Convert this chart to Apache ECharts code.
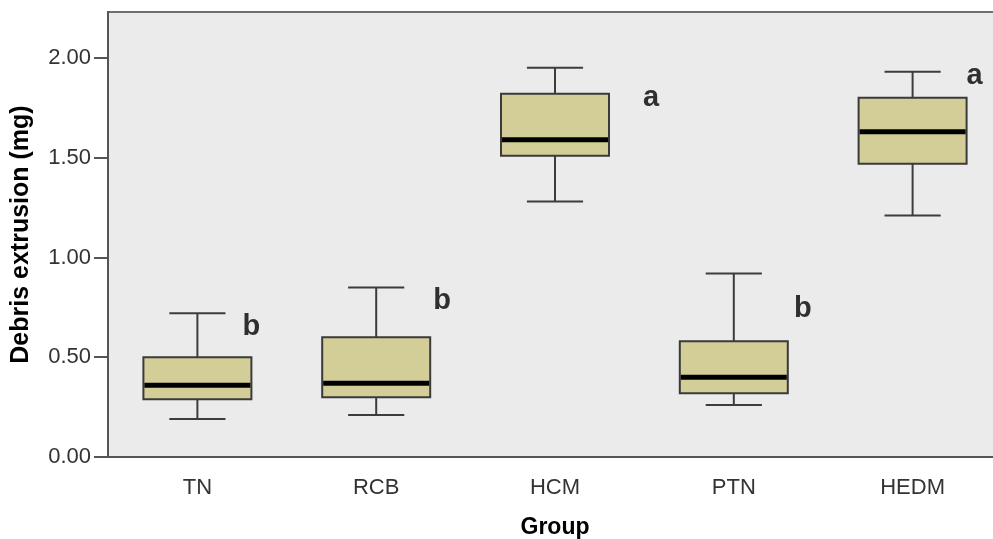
<!DOCTYPE html>
<html lang="en">

<head>
    <meta charset="UTF-8">
    <title>Debris extrusion</title>
    <style>
        html, body { margin: 0; padding: 0; background: #fff; }
    </style>
</head>

<body>
    <div id="main" style="width: 993px;height:539px;"></div>
    <script src="https://cdn.jsdelivr.net/npm/echarts@6/dist/echarts.min.js"></script>
    <script>
        // values
        var groups = ['TN', 'RCB', 'HCM', 'PTN', 'HEDM'];
        var whiskerLow = [0.19, 0.21, 1.28, 0.26, 1.21];
        var q1 = [0.29, 0.30, 1.51, 0.32, 1.47];
        var median = [0.36, 0.37, 1.59, 0.40, 1.63];
        var q3 = [0.50, 0.60, 1.82, 0.58, 1.80];
        var whiskerHigh = [0.72, 0.85, 1.95, 0.92, 1.93];
        var letters = ['b', 'b', 'a', 'b', 'a'];
        var letterY = [0.65, 0.78, 1.80, 0.74, 1.91];
        var yTicks = [0, 0.5, 1, 1.5, 2];

        // horizontal shift of each letter from its group centre, px
        var letterShift = [54, 66, 96, 69, 62];

        var font = 'Arial, "Liberation Sans", sans-serif';

        var boxData = groups.map(function (g, i) {
            return [i, whiskerLow[i], q1[i], median[i], q3[i], whiskerHigh[i]];
        });
        var letterData = groups.map(function (g, i) {
            return {
                value: [i, letterY[i]],
                label: { formatter: letters[i], offset: [letterShift[i], 0] }
            };
        });

        function renderBox(params, api) {
            var x = api.value(0);
            var pLow = api.coord([x, api.value(1)]);
            var pQ1 = api.coord([x, api.value(2)]);
            var pMed = api.coord([x, api.value(3)]);
            var pQ3 = api.coord([x, api.value(4)]);
            var pHigh = api.coord([x, api.value(5)]);
            var band = api.size([1, 0])[0];
            var half = band * 0.302;
            var cap = band * 0.157;
            var cx = pLow[0];
            var line = { stroke: '#3c3c3c', lineWidth: 2 };
            return {
                type: 'group',
                children: [
                    { type: 'line', shape: { x1: cx, y1: pLow[1], x2: cx, y2: pQ1[1] }, style: line },
                    { type: 'line', shape: { x1: cx, y1: pQ3[1], x2: cx, y2: pHigh[1] }, style: line },
                    { type: 'line', shape: { x1: cx - cap, y1: pLow[1], x2: cx + cap, y2: pLow[1] }, style: line },
                    { type: 'line', shape: { x1: cx - cap, y1: pHigh[1], x2: cx + cap, y2: pHigh[1] }, style: line },
                    {
                        type: 'rect',
                        shape: { x: cx - half, y: pQ3[1], width: half * 2, height: pQ1[1] - pQ3[1] },
                        style: { fill: '#d3ce97', stroke: '#3a3a3a', lineWidth: 2 }
                    },
                    {
                        type: 'line',
                        shape: { x1: cx - half + 1, y1: pMed[1], x2: cx + half - 1, y2: pMed[1] },
                        style: { stroke: '#000', lineWidth: 5 }
                    }
                ]
            };
        }

        var myChart = echarts.init(document.getElementById('main'));

        option = {
            animation: false,
            grid: {
                left: 108,
                top: 12,
                width: 894,
                height: 445,
                outerBoundsMode: 'none',
                containLabel: false,
                show: true,
                backgroundColor: '#ebebeb',
                borderColor: '#6e6e6e',
                borderWidth: 2
            },
            xAxis: {
                type: 'category',
                data: groups,
                name: 'Group',
                nameLocation: 'middle',
                nameGap: 59,
                nameTextStyle: { fontFamily: font, fontSize: 23, fontWeight: 'bold', color: '#000' },
                axisLine: { lineStyle: { color: '#555', width: 2 } },
                axisTick: { alignWithLabel: true, length: 14, lineStyle: { color: '#555', width: 2 } },
                axisLabel: { fontFamily: font, fontSize: 22, color: '#333', margin: 20 },
                splitLine: { show: false }
            },
            yAxis: {
                type: 'value',
                min: 0,
                max: 2.23,
                interval: 0.5,
                name: 'Debris extrusion (mg)',
                nameLocation: 'middle',
                nameGap: 74,
                nameTextStyle: { fontFamily: font, fontSize: 25, fontWeight: 'bold', color: '#000' },
                axisLine: { show: true, lineStyle: { color: '#555', width: 2 } },
                axisTick: { show: true, length: 14, customValues: yTicks, lineStyle: { color: '#555', width: 2 } },
                axisLabel: {
                    fontFamily: font, fontSize: 22, color: '#333', margin: 17,
                    customValues: yTicks,
                    formatter: function (v) { return v.toFixed(2); }
                },
                splitLine: { show: false }
            },
            series: [{
                type: 'custom',
                renderItem: renderBox,
                encode: { x: 0, y: [1, 2, 3, 4, 5] },
                data: boxData,
                z: 2
            }, {
                type: 'scatter',
                symbolSize: 0,
                data: letterData,
                label: {
                    show: true,
                    position: 'inside',
                    fontFamily: font,
                    fontSize: 29,
                    fontWeight: 'bold',
                    color: '#000'
                },
                z: 3
            }]
        };
        myChart.setOption(option);
    </script>
</body>

</html>
